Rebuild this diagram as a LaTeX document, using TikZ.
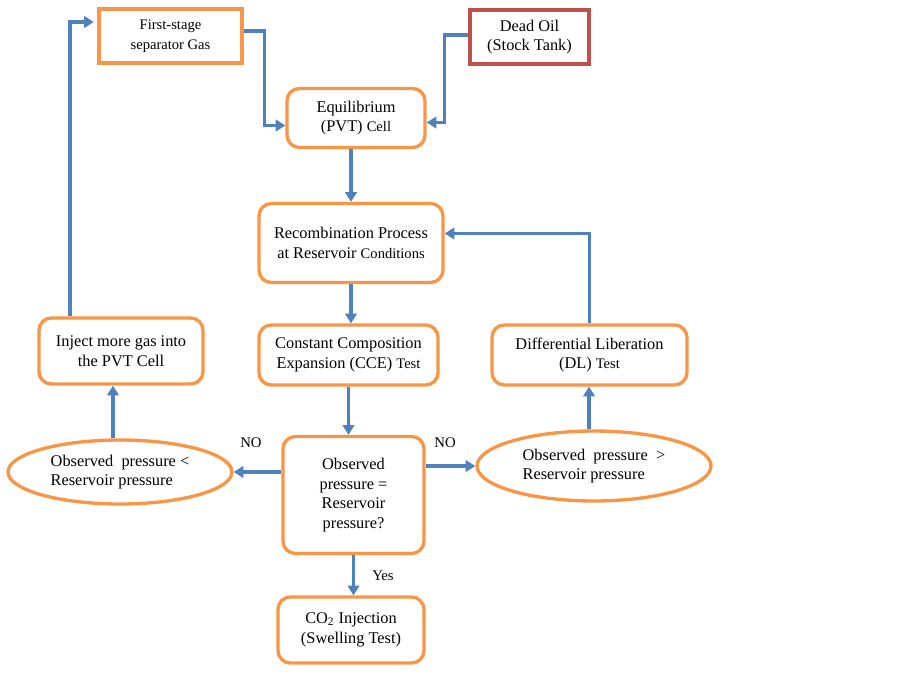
\documentclass[tikz,border=0pt]{standalone}
\usepackage{fontspec}
\setmainfont{Liberation Serif}
\usetikzlibrary{arrows.meta,shapes.geometric,calc}
\definecolor{boxorange}{HTML}{F79646}
\definecolor{boxred}{HTML}{C0504D}
\definecolor{arrblue}{HTML}{4F81BD}
\newcommand{\sm}{\fontsize{8.3}{11.3}\selectfont}
\tikzset{
  base/.style={draw=boxorange, line width=1.9pt, fill=white, align=center, inner sep=0pt,
    font=\fontsize{9.3}{11.3}\selectfont},
  sqbox/.style={base},
  rbox/.style={base, rounded corners=7pt},
  redbox/.style={base, draw=boxred},
  ell/.style={base, ellipse, align=left},
  arr/.style={draw=arrblue, line width=2pt, -{Triangle[length=5.5pt,width=6.5pt]}},
  lbl/.style={font=\fontsize{8.4}{10}\selectfont, inner sep=1pt}
}
\begin{document}
\begin{tikzpicture}[x=0.02cm,y=-0.02cm]
\useasboundingbox[fill=white] (0,0) rectangle (900,680);

\node[sqbox, minimum width=2.86cm, minimum height=1.08cm] (fsg) at (170.5,36) {{\sm First-stage}\\{\sm separator Gas}};
\node[redbox, minimum width=2.38cm, minimum height=1.08cm] (dead) at (529.5,37) {Dead Oil\\(Stock Tank)};
\node[rbox, minimum width=2.76cm, minimum height=1.18cm] (eq) at (356,118) {Equilibrium\\(PVT) {\sm Cell}};
\node[rbox, minimum width=3.68cm, minimum height=1.58cm] (rec) at (351,243) {Recombination Process\\at Reservoir {\sm Conditions}};
\node[rbox, minimum width=3.58cm, minimum height=1.2cm] (cce) at (348.5,355) {Constant Composition\\Expansion (CCE) {\sm Test}};
\node[rbox, minimum width=3.9cm, minimum height=1.2cm] (dl) at (589.5,355) {Differential Liberation\\(DL) {\sm Test}};
\node[rbox, minimum width=3.28cm, minimum height=1.32cm] (inj) at (121,351) {Inject more gas into\\the PVT Cell};
\node[ell, minimum width=4.48cm, minimum height=1.28cm] (lt) at (120,472) {Observed~ pressure <\\Reservoir pressure};
\node[rbox, minimum width=2.82cm, minimum height=2.34cm] (eqd) at (353.5,495) {Observed\\pressure =\\Reservoir\\pressure?};
\node[ell, minimum width=4.68cm, minimum height=1.4cm] (gt) at (594,466) {Observed~ pressure~ >\\Reservoir pressure};
\node[rbox, minimum width=2.92cm, minimum height=1.32cm] (co2) at (351,630) {CO\textsubscript{2} Injection\\(Swelling Test)};

% connectors
\draw[arr] ([yshift=0.1cm]fsg.east) -- ++(0.42cm,0) |- ([yshift=-0.15cm]eq.west);
\draw[arr] ([yshift=0.04cm]dead.west) -- ++(-0.48cm,0) |- ([yshift=-0.09cm]eq.east);
\draw[arr] (eq.south -| rec.north) -- (rec.north);
\draw[arr] (rec.south) -- (rec.south |- cce.north);
\draw[arr] (cce.south) -- (cce.south |- eqd.north);
\draw[arr] (eqd.west |- lt.east) -- (lt.east);
\draw[arr] (eqd.east |- gt.west) -- (gt.west);
\draw[arr] (eqd.south) -- (eqd.south |- co2.north);
\coordinate (c1) at ([xshift=-0.14cm]lt.north);
\draw[arr] (c1) -- (c1 |- inj.south);
\draw[arr, shorten >=2pt] ([xshift=-1.02cm]inj.north) |- ([yshift=0.28cm]fsg.west);
\coordinate (c2) at ([xshift=-0.1cm]gt.north);
\draw[arr] (c2) -- (c2 |- dl.south);
\draw[arr] (dl.north) |- ([yshift=0.19cm]rec.east);

\node[lbl] (no1) at (251,443) {NO};
\node[lbl] (no2) at (445,443) {NO};
\node[lbl] (yes) at (383,576) {Yes};
\end{tikzpicture}
\end{document}
